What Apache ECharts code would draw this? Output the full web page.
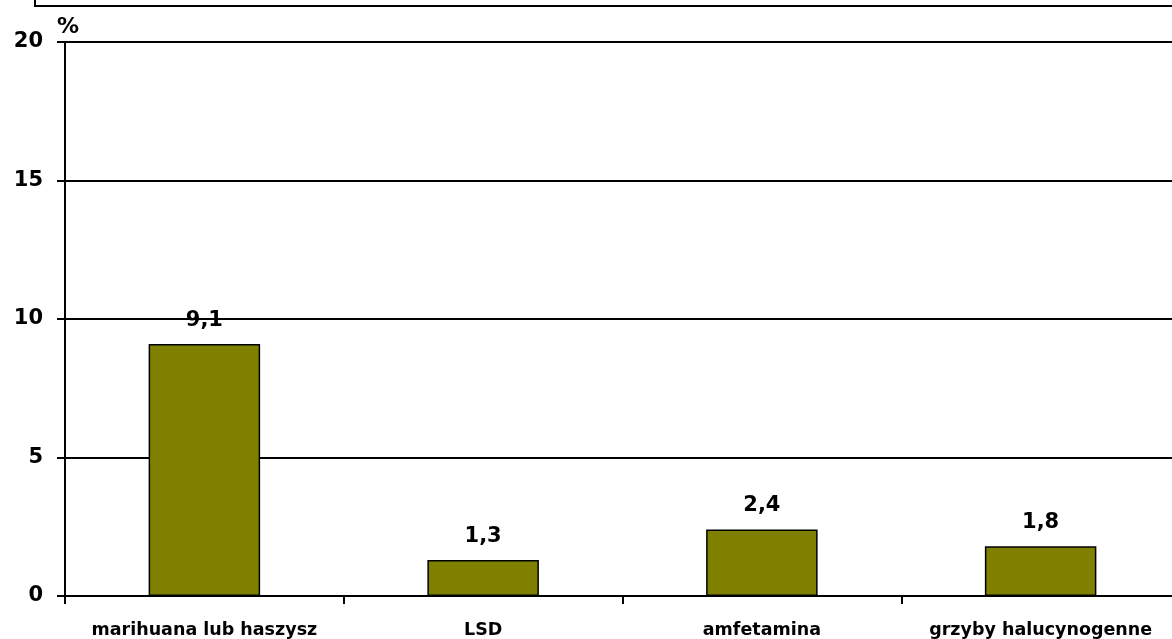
<!DOCTYPE html>
<html><head><meta charset="utf-8">
<script src="https://cdn.jsdelivr.net/npm/echarts@6/dist/echarts.min.js"></script>
<style>html,body{margin:0;padding:0;background:#fff;overflow:hidden;width:1172px;height:639px;}#c{width:1180px;height:639px;}</style>
</head><body><div id="c"></div>
<script>
var categories = ['marihuana lub haszysz', 'LSD', 'amfetamina', 'grzyby halucynogenne'];
var values = [9.1, 1.3, 2.4, 1.8];
var yTicks = [0, 5, 10, 15, 20];

var chart = echarts.init(document.getElementById('c'), null, {renderer: 'canvas'});
var FONT = '"DejaVu Sans", "Liberation Sans", Arial, sans-serif';
chart.setOption({
  animation: false,
  backgroundColor: '#fff',
  grid: {left: 65, top: 42, right: 0, bottom: 43, containLabel: false},
  graphic: [{
    type: 'rect', shape: {x: 35, y: -20, width: 1200, height: 26},
    style: {fill: 'none', stroke: '#000', lineWidth: 2}
  }, {
    type: 'text', left: 57, top: 16,
    style: {text: '%', font: 'bold 22px ' + FONT, fill: '#000'}
  }],
  xAxis: {
    type: 'category', data: categories,
    axisLine: {show: true, lineStyle: {color: '#000', width: 2}},
    axisTick: {show: true, length: 8, inside: false, lineStyle: {color: '#000', width: 2}},
    axisLabel: {color: '#000', fontFamily: FONT, fontWeight: 'bold', fontSize: 17.5, margin: 25, interval: 0},
    splitLine: {show: false}
  },
  yAxis: {
    type: 'value', min: yTicks[0], max: yTicks[yTicks.length - 1], interval: 5,
    axisLine: {show: true, lineStyle: {color: '#000', width: 2}},
    axisTick: {show: true, length: 8, lineStyle: {color: '#000', width: 2}},
    axisLabel: {color: '#000', fontFamily: FONT, fontWeight: 'bold', fontSize: 21, margin: 22},
    splitLine: {show: true, lineStyle: {color: '#000', width: 2}}
  },
  series: [{
    type: 'bar', data: values, barWidth: '40%',
    itemStyle: {color: '#808000', borderColor: '#000', borderWidth: 1.5},
    label: {
      show: true, position: 'top', distance: 13, color: '#000',
      fontFamily: FONT, fontWeight: 'bold', fontSize: 21,
      formatter: function (p) { return String(p.value.toFixed(1)).replace('.', ','); }
    }
  }]
});
</script></body></html>
